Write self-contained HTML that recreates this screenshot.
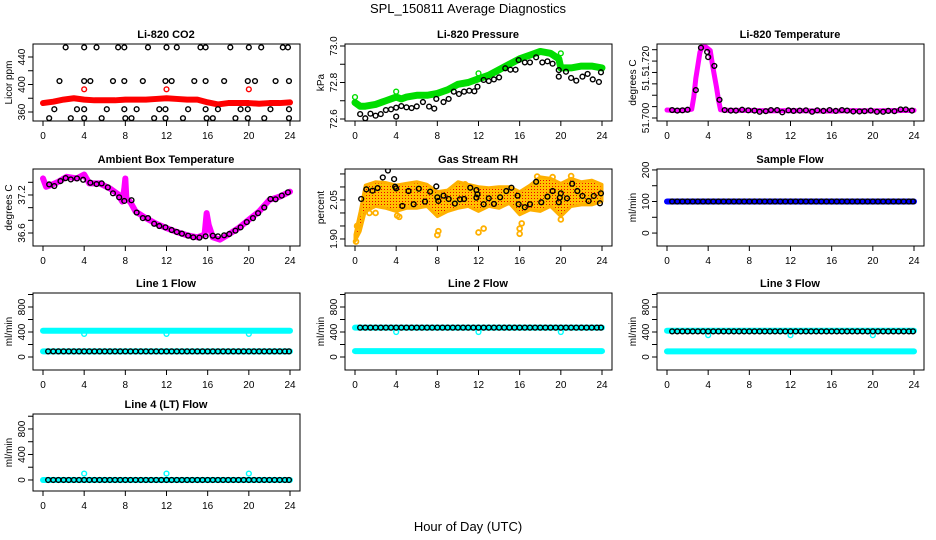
<!DOCTYPE html>
<html><head><meta charset="utf-8"><style>
body{margin:0;background:#fff;}
svg{display:block;font-family:"Liberation Sans",sans-serif;}
</style></head><body>
<svg id="chart" width="936" height="540" viewBox="0 0 936 540" xmlns="http://www.w3.org/2000/svg">
<text x="468" y="13" text-anchor="middle" font-size="13">SPL_150811  Average Diagnostics</text>
<text x="468" y="531" text-anchor="middle" font-size="13">Hour of Day (UTC)</text>
</svg>
<script>
const xTicks=[0,4,8,12,16,20,24];
const flowT=[0.5,1,1.5,2,2.5,3,3.5,4,4.5,5,5.5,6,6.5,7,7.5,8,8.5,9,9.5,10,10.5,11,11.5,12,12.5,13,13.5,14,14.5,15,15.5,16,16.5,17,17.5,18,18.5,19,19.5,20,20.5,21,21.5,22,22.5,23,23.5,23.9];
// CO2
const co2RedT=[0,1,2,3,4,5,6,7,8,9,10,11,12,13,14,15,16,17,18,19,20,21,22,23,24];
const co2Red=[373,375,378,380,378,377,377,377,378,378,378,379,380,379,378,378,374,371,373,373,373,372,373,373,374];
const co2RedOutT=[4,12,20];
const co2RedOut=[393,393,393];
const co2BlkT=[2.2,4,5.2,7.3,7.9,10.2,12,13,15.3,15.8,18.2,20,21.2,23.3,23.8,1.6,4,4.6,6.8,7.9,9.7,11.9,12.5,14.7,15.8,17.6,19.9,20.6,22.6,23.9,1.1,3.3,4,6.2,7.9,9.1,11.3,11.9,14.1,15.8,17,19.2,19.9,22.1,23.9,0.6,2.7,4,5.7,8,8.6,10.8,11.9,13.6,15.9,16.5,18.7,19.9,21.5,23.9];
const co2Blk=[454,454,454,454,454,454,454,454,454,454,454,454,454,454,454,405,405,405,405,405,405,405,405,405,405,405,405,405,405,405,364,364,364,364,364,364,364,364,364,364,364,364,364,364,364,351,351,351,351,351,351,351,351,351,351,351,351,351,351,351];
// Pressure
const prGrnT=[0,0.5,1,2,3,4,4.5,5,6,7,8,9,10,11,12,12.5,13,14,15,16,17,18,19,19.8,20,21,22,23,24];
const prGrn=[72.69,72.67,72.67,72.68,72.70,72.72,72.71,72.72,72.73,72.73,72.74,72.76,72.79,72.80,72.82,72.83,72.84,72.87,72.90,72.93,72.95,72.97,72.96,72.93,72.88,72.88,72.89,72.89,72.88];
const prGrnOutT=[0,4,8,12,20];
const prGrnOut=[72.72,72.75,72.74,72.85,72.96];
const prBlkT=[0.5,1,1.5,2,2.5,3,3.5,4,4,4.5,5,5.5,6,6.6,7.2,7.7,7.9,8.6,9.1,9.6,10.1,10.6,11.1,11.6,11.9,12.5,13,13.5,14,14.6,15.1,15.6,15.9,16.5,17,17.6,18.2,18.7,19.2,19.8,19.8,20.5,21,21.5,22.1,22.6,23.1,23.7,23.9];
const prBlk=[72.627,72.604,72.629,72.618,72.627,72.649,72.653,72.613,72.662,72.671,72.664,72.660,72.669,72.693,72.668,72.657,72.710,72.693,72.710,72.750,72.737,72.750,72.755,72.752,72.777,72.814,72.808,72.817,72.828,72.878,72.870,72.870,72.923,72.910,72.910,72.938,72.910,72.916,72.903,72.868,72.832,72.859,72.825,72.810,72.832,72.847,72.817,72.803,72.856];
// Li-820 temperature
const tmMagT=[0,0.5,1,2,2.4,2.6,2.8,3.0,3.2,3.4,3.8,4.2,4.4,4.6,4.8,5.0,5.2,6,8,10,12,14,16,18,20,22,24];
const tmMag=[51.7028,51.7027,51.7026,51.7028,51.7031,51.7073,51.7139,51.7185,51.7231,51.7249,51.7249,51.7237,51.7191,51.7150,51.7110,51.7064,51.7029,51.7027,51.7027,51.7025,51.7026,51.7025,51.7024,51.7026,51.7025,51.7026,51.7027];
const tmBlkT=[0.5,1,1.5,2,2.8,3.3,3.9,4,4.6,5.1,5.6,6.2,6.7,7.3,7.9,8.5,9,9.6,10.1,10.7,11.2,11.8,12.3,12.9,13.5,14.1,14.6,15.2,15.8,16.4,17,17.5,18.1,18.7,19.2,19.8,20.4,21,21.5,22.1,22.7,23.2,23.8];
const tmBlk=[51.7028,51.7026,51.7027,51.7029,51.7098,51.7247,51.7232,51.7214,51.7183,51.7064,51.7028,51.7026,51.7026,51.7029,51.7027,51.7026,51.7022,51.7024,51.7028,51.7028,51.7020,51.7027,51.7025,51.7026,51.7027,51.7022,51.7027,51.7025,51.7028,51.7025,51.7028,51.7026,51.7023,51.7023,51.7024,51.7026,51.7022,51.7022,51.7025,51.7024,51.7030,51.7030,51.7026];
// Ambient
const amMagT=[0,0.3,0.8,1.5,2.3,3.3,4,4.5,5.5,6.5,7.3,7.7,7.9,8.0,8.1,8.5,9,10,11,12,13,14,15,15.7,15.9,16.1,16.5,17.2,18,19,20,21,22,23,24];
const amMag=[37.461,37.330,37.357,37.409,37.487,37.461,37.523,37.383,37.383,37.304,37.210,37.096,37.300,37.461,37.148,37.085,36.939,36.835,36.746,36.678,36.616,36.564,36.532,36.574,36.913,36.730,36.532,36.496,36.574,36.678,36.809,36.939,37.122,37.174,37.252];
const amBlkT=[0.6,1.1,1.7,2.2,2.7,3.3,3.9,4.6,5.2,5.7,6.3,6.8,7.4,7.9,8.6,9.1,9.7,10.2,10.8,11.3,11.9,12.5,13,13.5,14.1,14.6,15.2,15.8,16.5,17,17.6,18.1,18.7,19.2,19.8,20.4,20.9,21.5,22.1,22.6,23.2,23.8];
const amBlk=[37.367,37.341,37.419,37.466,37.445,37.461,37.440,37.393,37.372,37.383,37.320,37.226,37.163,37.106,37.117,36.923,36.835,36.835,36.746,36.710,36.689,36.647,36.616,36.590,36.558,36.532,36.527,36.548,36.558,36.548,36.564,36.584,36.637,36.689,36.772,36.835,36.913,37.002,37.137,37.132,37.190,37.242];
// RH
const rhBandT=[0,0.5,1,2,3,4,5,6,7,8,9,10,11,12,13,14,15,16,17,18,19,20,21,22,23,24];
const rhUpper=[1.917,2.006,2.107,2.120,2.117,2.107,2.114,2.120,2.110,2.082,2.088,2.120,2.110,2.101,2.097,2.101,2.101,2.082,2.107,2.139,2.133,2.114,2.133,2.120,2.126,2.110];
const rhLower=[1.891,1.929,2.006,2.025,2.018,2.006,2.018,2.018,2.025,1.986,2.006,2.018,2.025,2.006,2.025,2.018,2.037,1.993,2.012,2.006,2.025,1.986,2.025,2.031,2.031,2.044];
const rhOutT=[8,8.1,12,12.5,16,16,16.2,1.4,2,4.1,4.3,20,0.2,0.1,17.7,19.2,21,10.7];
const rhOut=[1.915,1.930,1.925,1.940,1.920,1.940,1.960,2.000,2.000,1.990,1.985,1.975,1.950,1.890,2.140,2.138,2.142,2.110];
const rhBlkT=[0.6,1.1,1.7,2.2,2.7,3.2,3.8,3.9,4.0,4.6,5.2,5.7,6.2,6.8,7.3,7.9,8.0,8.1,8.6,9.1,9.7,10.2,10.6,11.2,11.8,11.8,11.9,12.5,13,13.5,14.1,14.7,15.2,15.8,15.9,16.5,17,17.6,18.1,18.7,19.2,19.8,19.9,20,20.6,21.1,21.6,22.1,22.7,23.2,23.8,23.9];
const rhBlk=[2.0538,2.0907,2.0856,2.0958,2.1364,2.1631,2.1301,2.1008,2.0945,2.0271,2.0843,2.0335,2.0932,2.0436,2.0818,2.1021,2.0602,2.0462,2.0665,2.0538,2.0360,2.0525,2.0538,2.0970,2.0881,2.0589,2.0716,2.0335,2.0564,2.0347,2.0602,2.0843,2.0970,2.0665,2.0335,2.0220,2.0335,2.1199,2.0411,2.0627,2.0843,2.0411,2.0589,2.0754,2.0564,2.1123,2.0843,2.0653,2.0462,2.0653,2.0373,2.0754];
// flows
const sfBlue=[100,100];
const sfBlk=[100,100,100,100,100,100,100,100,100,100,100,100,100,100,100,100,100,100,100,100,100,100,100,100,100,100,100,100,100,100,100,100,100,100,100,100,100,100,100,100,100,100,100,100,100,100,100,100];
const bandT=[0,24];
const dipT=[4,12,20];
const l1Up=[420,420];
const l1Lo=[90,90];
const l1Dip=[370,370,370];
const l1Blk=[90,90,90,90,90,90,90,90,90,90,90,90,90,90,90,90,90,90,90,90,90,90,90,90,90,90,90,90,90,90,90,90,90,90,90,90,90,90,90,90,90,90,90,90,90,90,90,90];
const l2Up=[470,470];
const l2Lo=[95,95];
const l2Dip=[400,400,400];
const l2Blk=[470,470,470,470,470,470,470,470,470,470,470,470,470,470,470,470,470,470,470,470,470,470,470,470,470,470,470,470,470,470,470,470,470,470,470,470,470,470,470,470,470,470,470,470,470,470,470,470];
const l3Up=[420,420];
const l3Lo=[90,90];
const l3Dip=[350,350,350];
const l3Blk=[410,410,410,410,410,410,410,410,410,410,410,410,410,410,410,410,410,410,410,410,410,410,410,410,410,410,410,410,410,410,410,410,410,410,410,410,410,410,410,410,410,410,410,410,410,410,410,410];
const l4Band=[0,0];
const l4Dip=[100,100,100];
const l4Blk=[0,0,0,0,0,0,0,0,0,0,0,0,0,0,0,0,0,0,0,0,0,0,0,0,0,0,0,0,0,0,0,0,0,0,0,0,0,0,0,0,0,0,0,0,0,0,0,0];

const svg=document.getElementById('chart');
const NS='http://www.w3.org/2000/svg';
const rowTop=[44,169,293,414], H=77;
function mk(tag,parent){const e=document.createElementNS(NS,tag);parent.appendChild(e);return e;}

function panel(col,row,title,ylab,ymin,ymax,ticks,labels,name){
  const g=mk('g',svg);
  
  
  const x0=col*312+43, top=rowTop[row], bot=top+H;
  const X=h=>x0+h*247/24;
  const Y=v=>bot-(v-ymin)/(ymax-ymin)*H;
  const P={g,X,Y,top,bot,x0};
  const clip=mk('clipPath',g); clip.setAttribute('id','c'+name);
  const cr=mk('rect',clip); cr.setAttribute('x',x0-10);cr.setAttribute('y',top);cr.setAttribute('width',267);cr.setAttribute('height',H);
  P.d=mk('g',g); P.d.setAttribute('clip-path','url(#c'+name+')');
  
  
  const box=mk('rect',g);
  
  
  box.setAttribute('x',x0-10);box.setAttribute('y',top);box.setAttribute('width',267);box.setAttribute('height',H);
  box.setAttribute('fill','none');box.setAttribute('stroke','#000');box.setAttribute('stroke-width','1');
  const t=mk('text',g);
  
  
  t.setAttribute('x',x0+123);t.setAttribute('y',top-6);t.setAttribute('text-anchor','middle');
  t.setAttribute('font-size','11');t.setAttribute('font-weight','bold');t.textContent=title;
  xTicks.forEach(h=>{
    const l=mk('line',g);
    
    
    l.setAttribute('x1',X(h));l.setAttribute('x2',X(h));l.setAttribute('y1',bot);l.setAttribute('y2',bot+5);l.setAttribute('stroke','#000');
    const tx=mk('text',g);
    
    
    tx.setAttribute('x',X(h));tx.setAttribute('y',bot+18);tx.setAttribute('text-anchor','middle');tx.setAttribute('font-size','10');tx.textContent=h;
  });
  ticks.forEach((v,i)=>{
    const y=Y(v);
    const l=mk('line',g);
    
    
    l.setAttribute('x1',x0-10);l.setAttribute('x2',x0-15);l.setAttribute('y1',y);l.setAttribute('y2',y);l.setAttribute('stroke','#000');
    if(labels[i]!==''){
      const tx=mk('text',g);
      
      
      tx.setAttribute('transform','translate('+(x0-18)+','+y+') rotate(-90)');
      tx.setAttribute('text-anchor','middle');tx.setAttribute('font-size','10');tx.textContent=labels[i];
    }
  });
  const yl=mk('text',g);
  
  
  yl.setAttribute('transform','translate('+(col*312+12)+','+((top+bot)/2)+') rotate(-90)');
  yl.setAttribute('text-anchor','middle');yl.setAttribute('font-size','10');yl.textContent=ylab;
  return P;
}
function band(P,ts,vs,color,w,name){
  const pl=mk('polyline',P.d);
  
  
  pl.setAttribute('points',ts.map((t,i)=>P.X(t)+','+P.Y(vs[i])).join(' '));
  pl.setAttribute('fill','none');pl.setAttribute('stroke',color);pl.setAttribute('stroke-width',w);
  pl.setAttribute('stroke-linejoin','round');pl.setAttribute('stroke-linecap','round');
}
function pts(P,ts,vs,color,name,r,sw){
  ts.forEach((t,i)=>{
    const c=mk('circle',P.d);
    
    
    c.setAttribute('cx',P.X(t));c.setAttribute('cy',P.Y(vs[i]));c.setAttribute('r',r||2.4);
    c.setAttribute('fill','none');c.setAttribute('stroke',color);c.setAttribute('stroke-width',sw||1.4);
  });
}

// Row 1
let P=panel(0,0,'Li-820 CO2','Licor ppm',346.9,458.9,[360,380,400,420,440],['360','','400','','440'],'co2');
band(P,co2RedT,co2Red,'#f00',6,'co2-red-band');
pts(P,co2RedOutT,co2RedOut,'#f00','co2-red-point');
pts(P,co2BlkT,co2Blk,'#000','co2-black-point');

P=panel(1,0,'Li-820 Pressure','kPa',72.589,73.011,[72.6,72.7,72.8,72.9,73.0],['72.6','','72.8','','73.0'],'pressure');
band(P,prGrnT,prGrn,'#0d0',7,'pressure-green-band');
pts(P,prGrnOutT,prGrnOut,'#0d0','pressure-green-point');
pts(P,prBlkT,prBlk,'#000','pressure-black-point');

P=panel(2,0,'Li-820 Temperature','degrees C',51.69895,51.726,[51.700,51.704,51.708,51.712,51.716,51.720,51.724],['51.700','','','51.','','51.720',''],'li820-temp');
band(P,tmMagT,tmMag,'#f0f',5,'li820-temp-magenta-band');
pts(P,tmBlkT,tmBlk,'#000','li820-temp-black-point');

// Row 2
P=panel(0,1,'Ambient Box Temperature','degrees C',36.395,37.61,[36.6,36.8,37.0,37.2,37.4],['36.6','','','37.2',''],'ambient');
band(P,amMagT,amMag,'#f0f',6,'ambient-magenta-band');
pts(P,amBlkT,amBlk,'#000','ambient-black-point');

P=panel(1,1,'Gas Stream RH','percent',1.873,2.169,[1.90,1.95,2.00,2.05,2.10,2.15],['1.90','','','2.05','',''],'rh');
{
  const defs=mk('defs',P.g);
  const pat=mk('pattern',defs);pat.setAttribute('id','rhpat');pat.setAttribute('width','3');pat.setAttribute('height','3');pat.setAttribute('patternUnits','userSpaceOnUse');
  const r1=mk('rect',pat);r1.setAttribute('width','3');r1.setAttribute('height','3');r1.setAttribute('fill','#ffc000');
  const r2=mk('rect',pat);r2.setAttribute('width','1');r2.setAttribute('height','1');r2.setAttribute('fill','#e00');
  const pg=mk('polygon',P.d);
  
  
  const up=rhBandT.map((t,i)=>P.X(t)+','+P.Y(rhUpper[i]));
  const lo=rhBandT.map((t,i)=>P.X(t)+','+P.Y(rhLower[i])).reverse();
  pg.setAttribute('points',up.concat(lo).join(' '));
  pg.setAttribute('fill','url(#rhpat)');pg.setAttribute('stroke','#ffb000');pg.setAttribute('stroke-width','3');pg.setAttribute('stroke-linejoin','round');
  pts(P,rhOutT,rhOut,'#ffb000','rh-orange-point',2.4,1.8);
}
pts(P,rhBlkT,rhBlk,'#000','rh-black-point');

P=panel(2,1,'Sample Flow','ml/min',-41,203,[0,50,100,150,200],['0','','100','','200'],'sample-flow');
band(P,bandT,sfBlue,'#00f',6,'sample-flow-blue-band');
pts(P,flowT,sfBlk,'#000','sample-flow-black-point');

// Row 3
const fT=[0,200,400,600,800,1000], fL=['0','','400','','800',''];
P=panel(0,2,'Line 1 Flow','ml/min',-208,1024,fT,fL,'line1-flow');
band(P,bandT,l1Up,'#0ff',6,'line1-cyan-upper');
band(P,bandT,l1Lo,'#0ff',6,'line1-cyan-lower');
pts(P,dipT,l1Dip,'#0ff','line1-cyan-dip');
pts(P,flowT,l1Blk,'#000','line1-black-point');

P=panel(1,2,'Line 2 Flow','ml/min',-208,1024,fT,fL,'line2-flow');
band(P,bandT,l2Up,'#0ff',6,'line2-cyan-upper');
band(P,bandT,l2Lo,'#0ff',6,'line2-cyan-lower');
pts(P,dipT,l2Dip,'#0ff','line2-cyan-dip');
pts(P,flowT,l2Blk,'#000','line2-black-point');

P=panel(2,2,'Line 3 Flow','ml/min',-208,1024,fT,fL,'line3-flow');
band(P,bandT,l3Up,'#0ff',6,'line3-cyan-upper');
band(P,bandT,l3Lo,'#0ff',6,'line3-cyan-lower');
pts(P,dipT,l3Dip,'#0ff','line3-cyan-dip');
pts(P,flowT,l3Blk,'#000','line3-black-point');

// Row 4
P=panel(0,3,'Line 4 (LT) Flow','ml/min',-173,1035,fT,fL,'line4-flow');
band(P,bandT,l4Band,'#0ff',6,'line4-cyan-band');
pts(P,dipT,l4Dip,'#0ff','line4-cyan-dip');
pts(P,flowT,l4Blk,'#000','line4-black-point');
</script>
</body></html>
